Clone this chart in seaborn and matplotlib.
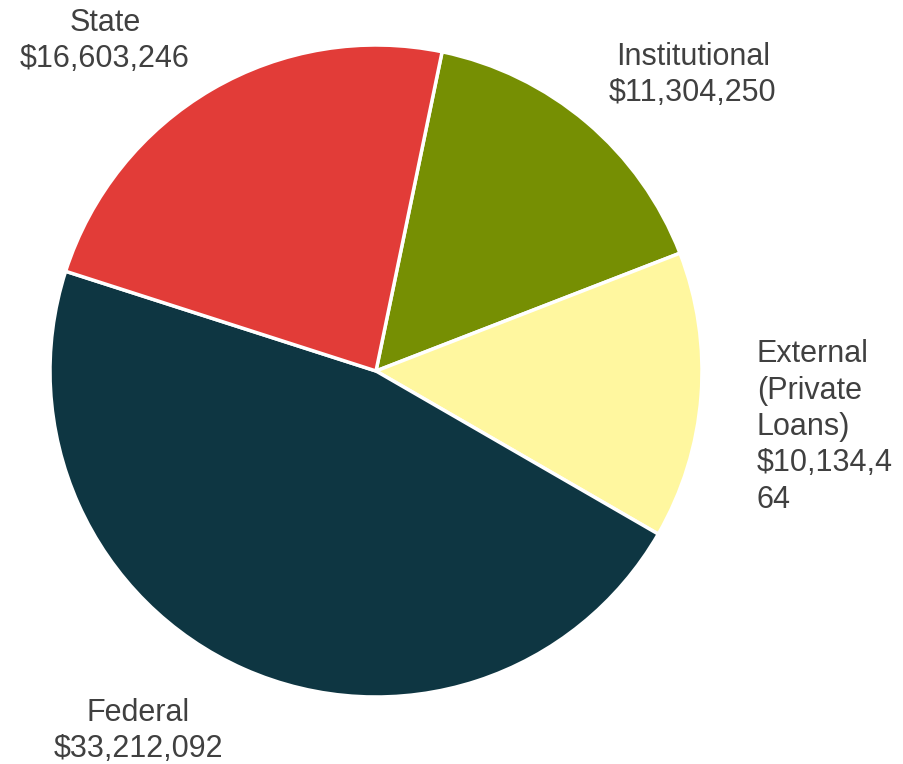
import matplotlib
matplotlib.use("Agg")
import matplotlib.pyplot as plt
import seaborn as sns

# Funding sources, in clockwise drawing order
sources = ["Institutional", "External\n(Private\nLoans)", "Federal", "State"]
amounts = [11304250, 10134464, 33212092, 16603246]
amount_labels = ["$11,304,250", "$10,134,4\n64", "$33,212,092", "$16,603,246"]
colors = ["#768F03", "#FFF79F", "#0E3642", "#E23C38"]

sns.set_theme(style="white")
plt.rcParams["font.family"] = ["Liberation Sans", "DejaVu Sans"]

W, H = 904, 764
fig = plt.figure(figsize=(W / 100, H / 100), dpi=100)
ax = fig.add_axes([0, 0, 1, 1])
ax.set_xlim(0, W)
ax.set_ylim(0, H)
ax.axis("off")

cx, cy, r = 376, H - 371, 326
ax.pie(amounts, colors=colors, startangle=78.3, counterclock=False,
       center=(cx, cy), radius=r,
       wedgeprops=dict(edgecolor="white", linewidth=2.5))
ax.set_xlim(0, W)
ax.set_ylim(0, H)
ax.set_aspect("equal")

txt = dict(color="#404040", fontsize=22, linespacing=1.28)
# label anchors (x, y, horizontal alignment)
anchors = [(693, H - 75, "center"), (757, H - 427, "left"),
           (138, H - 731, "center"), (105, H - 41, "center")]
for name, lab, (x, y, ha) in zip(sources, amount_labels, anchors):
    ax.text(x, y, f"{name}\n{lab}", ha=ha, va="center", **txt)

fig.savefig("out.png", dpi=100, facecolor="white")
